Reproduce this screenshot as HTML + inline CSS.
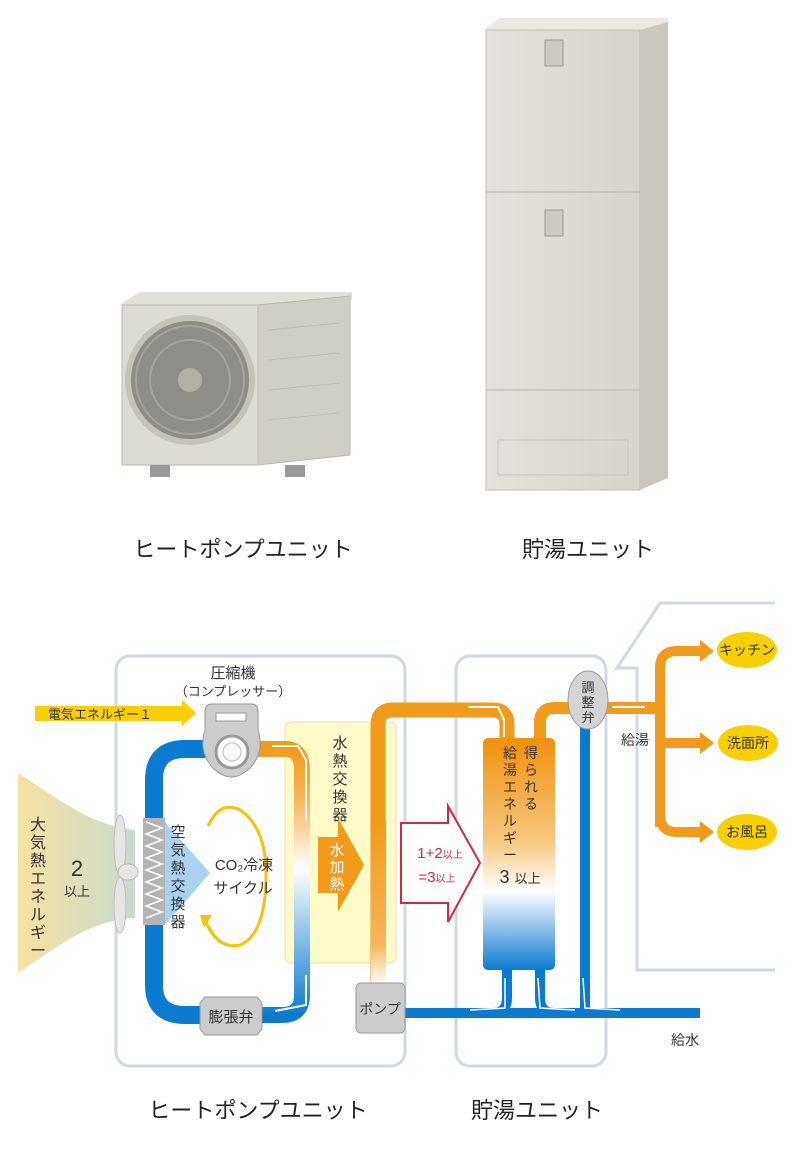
<!DOCTYPE html>
<html><head><meta charset="utf-8"><style>
body{margin:0;background:#fff}
svg text{font-family:"Liberation Sans","Noto Sans CJK JP",sans-serif}
</style></head><body>
<svg width="800" height="1148" viewBox="0 0 800 1148" xmlns="http://www.w3.org/2000/svg">
<defs>
<linearGradient id="tankg" x1="0" y1="0" x2="0" y2="1">
<stop offset="0" stop-color="#f0900a"/><stop offset="0.45" stop-color="#f8c880"/><stop offset="0.66" stop-color="#fff"/><stop offset="0.8" stop-color="#9cc8ec"/><stop offset="1" stop-color="#0a7bd0"/></linearGradient>
<linearGradient id="rpipe" x1="0" y1="0" x2="0" y2="1">
<stop offset="0" stop-color="#f29a1a"/><stop offset="0.2" stop-color="#f7b860"/><stop offset="0.45" stop-color="#fff"/><stop offset="0.7" stop-color="#8cc0ea"/><stop offset="1" stop-color="#0a7bd0"/></linearGradient>
<linearGradient id="ppipe" x1="0" y1="0" x2="0" y2="1">
<stop offset="0" stop-color="#f29a1a"/><stop offset="0.75" stop-color="#f6b45a"/><stop offset="1" stop-color="#fff"/></linearGradient>
<linearGradient id="air" x1="0" y1="0" x2="1" y2="0">
<stop offset="0" stop-color="#f7e2a0"/><stop offset="1" stop-color="#c8dcd0"/></linearGradient>
<linearGradient id="tank" x1="0" y1="0" x2="1" y2="0">
<stop offset="0" stop-color="#e4e2da"/><stop offset="1" stop-color="#d6d4cb"/></linearGradient>
</defs>

<!-- photo: outdoor unit -->
<polygon points="122,303 140,292 352,292 352,300 258,312 122,312" fill="#e2e1d9"/>
<rect x="122" y="305" width="136" height="160" fill="#dddcd3" stroke="#b8b7ae"/>
<polygon points="258,305 350,296 350,455 258,465" fill="#cfcec5" stroke="#b8b7ae"/>
<circle cx="190" cy="380" r="62" fill="#8e8e88" stroke="#c4c3ba" stroke-width="6"/>
<circle cx="190" cy="380" r="54" fill="none" stroke="#a5a59f" stroke-width="2"/>
<circle cx="190" cy="380" r="40" fill="none" stroke="#a5a59f" stroke-width="2"/>
<circle cx="190" cy="380" r="12" fill="#b0b0a8"/>
<g stroke="#bdbcb3"><line x1="268" y1="330" x2="340" y2="323"/><line x1="268" y1="360" x2="340" y2="353"/><line x1="268" y1="390" x2="340" y2="383"/><line x1="268" y1="420" x2="340" y2="413"/></g>
<rect x="150" y="465" width="20" height="12" fill="#999"/><rect x="285" y="465" width="20" height="12" fill="#999"/>

<!-- photo: tank unit -->
<polygon points="486,28 500,18 668,18 668,40 640,40 486,40" fill="#ebe9e2"/>
<rect x="486" y="30" width="154" height="460" fill="url(#tank)" stroke="#c0beb5"/>
<polygon points="640,30 668,22 668,478 640,490" fill="#c9c7be"/>
<line x1="486" y1="192" x2="640" y2="192" stroke="#b6b4ab"/>
<line x1="486" y1="390" x2="640" y2="390" stroke="#b6b4ab"/>
<rect x="545" y="40" width="18" height="26" fill="#ccc9c0" stroke="#999"/>
<rect x="545" y="210" width="18" height="26" fill="#ccc9c0" stroke="#999"/>
<rect x="498" y="440" width="130" height="35" fill="none" stroke="#c6c4bb"/>

<text x="243" y="557" font-size="22" text-anchor="middle" fill="#222">ヒートポンプユニット</text>
<text x="588" y="557" font-size="22" text-anchor="middle" fill="#222">貯湯ユニット</text>

<!-- diagram frames -->
<rect x="116" y="656" width="289" height="410" rx="14" fill="none" stroke="#cfd9e0" stroke-width="3"/>
<rect x="456" y="656" width="150" height="410" rx="14" fill="none" stroke="#cfd9e0" stroke-width="3"/>
<polyline points="775,603 660,603 617,668 637,668 637,970 775,970" fill="none" stroke="#cfd9e0" stroke-width="3"/>

<!-- air energy -->
<path d="M18,773 C60,800 90,825 135,830 L135,918 C90,920 60,945 18,973 Z" fill="url(#air)"/>
<g font-size="16" fill="#333" text-anchor="middle">
<text x="38" y="830">大</text><text x="38" y="848">気</text><text x="38" y="866">熱</text><text x="38" y="884">エ</text><text x="38" y="902">ネ</text><text x="38" y="920">ル</text><text x="38" y="938">ギ</text><text x="38" y="956">ー</text>
</g>
<text x="77" y="876" font-size="22" text-anchor="middle" fill="#333">2</text>
<text x="77" y="896" font-size="13" text-anchor="middle" fill="#333">以上</text>
<ellipse cx="120" cy="845" rx="6" ry="30" fill="#e6e6e6" stroke="#bbb"/>
<ellipse cx="120" cy="905" rx="6" ry="28" fill="#e6e6e6" stroke="#bbb"/>
<ellipse cx="128" cy="872" rx="10" ry="8" fill="#e6e6e6" stroke="#bbb"/>

<!-- yellow box -->
<rect x="285" y="722" width="111" height="241" rx="6" fill="#fffbc8" stroke="#e8e0b0"/>

<!-- blue loop -->
<path d="M210,749 L185,749 Q154,749 154,780 L154,985 Q154,1015 185,1015 L210,1015" fill="none" stroke="#0a7bd0" stroke-width="18"/>
<path d="M255,749 L285,749 Q302,749 302,770 L302,995 Q302,1015 282,1015 L255,1015" fill="none" stroke="url(#rpipe)" stroke-width="16"/>
<polyline points="272,746 298,746 306,760 306,820" fill="none" stroke="#fff" stroke-width="2"/>
<polyline points="306,975 306,1005 275,1011" fill="none" stroke="#fff" stroke-width="2"/>
<!-- heat exchanger -->
<rect x="143" y="818" width="22" height="107" fill="#b4b4b4"/>
<polyline points="146,822 162,828 146,834 162,840 146,846 162,852 146,858 162,864 146,870 162,876 146,882 162,888 146,894 162,900 146,906 162,912 146,918" fill="none" stroke="#fff" stroke-width="1.5"/>
<polygon points="165,822 210,873 165,925" fill="#a8d2ee"/>
<g font-size="15" fill="#333" text-anchor="middle">
<text x="178" y="837">空</text><text x="178" y="855">気</text><text x="178" y="873">熱</text><text x="178" y="891">交</text><text x="178" y="909">換</text><text x="178" y="927">器</text>
</g>
<!-- yellow cycle -->
<path d="M208,826 Q220,800 240,810 Q267,828 266,878 Q265,935 240,945 Q218,950 206,922" fill="none" stroke="#f5c400" stroke-width="3"/>
<polygon points="200,915 212,915 204,928" fill="#f5c400"/>
<text x="244" y="870" font-size="15" text-anchor="middle" fill="#333">CO₂冷凍</text>
<text x="243" y="893" font-size="15" text-anchor="middle" fill="#333">サイクル</text>
<!-- compressor -->
<path d="M212,704 L252,704 Q258,704 258,712 L258,730 Q265,752 250,768 Q240,777 232,777 Q222,777 213,768 Q198,752 205,730 L205,712 Q205,704 212,704 Z" fill="#ccc" stroke="#999"/>
<rect x="216" y="713" width="30" height="8" fill="#fff" stroke="#999"/>
<circle cx="232" cy="752" r="16" fill="#fff" stroke="#999" stroke-width="3"/>
<circle cx="232" cy="752" r="9" fill="#fff" stroke="#bbb"/>
<text x="233" y="678" font-size="15" text-anchor="middle" fill="#333">圧縮機</text>
<text x="233" y="696" font-size="13" text-anchor="middle" fill="#333">（コンプレッサー）</text>
<!-- electric arrow -->
<polygon points="35,706 182,706 182,700 196,713 182,726 182,721 35,721" fill="#f9cf00"/>
<text x="48" y="719" font-size="13" fill="#333">電気エネルギー１</text>
<!-- expansion valve -->
<path d="M205,997 L257,997 L262,1003 L262,1029 L257,1035 L205,1035 L200,1029 L200,1003 Z" fill="#ccc" stroke="#999"/>
<text x="231" y="1022" font-size="15" text-anchor="middle" fill="#333">膨張弁</text>
<!-- water heat exchanger text & arrow -->
<g font-size="15" fill="#333" text-anchor="middle">
<text x="340" y="748">水</text><text x="340" y="766">熱</text><text x="340" y="784">交</text><text x="340" y="802">換</text><text x="340" y="820">器</text>
</g>
<polygon points="318,837 338,837 338,818 364,865 338,912 338,893 318,893" fill="#f29a1a"/>
<g font-size="15" fill="#fff" text-anchor="middle"><text x="337" y="855">水</text><text x="337" y="872">加</text><text x="337" y="889">熱</text></g>

<!-- orange pipe from pump -->
<path d="M378,985 L378,725 Q378,710 393,710 L493,710 Q507,710 507,725 L507,740" fill="none" stroke="#f29a1a" stroke-width="15"/>
<rect x="371" y="820" width="15" height="165" fill="url(#ppipe)"/>
<polyline points="468,707 498,707 504,720 504,737" fill="none" stroke="#fff" stroke-width="2"/>
<!-- blue pipes -->
<line x1="400" y1="1013" x2="700" y2="1013" stroke="#0a7bd0" stroke-width="10"/>
<path d="M507,965 L507,998 Q507,1013 492,1013" fill="none" stroke="#0a7bd0" stroke-width="10"/>
<path d="M540,965 L540,998 Q540,1013 555,1013" fill="none" stroke="#0a7bd0" stroke-width="10"/>
<line x1="585" y1="720" x2="585" y2="1013" stroke="#0a7bd0" stroke-width="10"/>
<polyline points="505,978 505,1008 470,1010" fill="none" stroke="#fff" stroke-width="1.5"/>
<polyline points="538,978 540,1008 575,1010" fill="none" stroke="#fff" stroke-width="1.5"/>
<polyline points="583,978 585,1008 620,1010" fill="none" stroke="#fff" stroke-width="1.5"/>
<text x="685" y="1045" font-size="14" text-anchor="middle" fill="#333">給水</text>
<!-- pump -->
<rect x="356" y="983" width="49" height="50" rx="5" fill="#ccc" stroke="#999"/>
<text x="380" y="1014" font-size="14" text-anchor="middle" fill="#333">ポンプ</text>

<!-- red arrow -->
<polygon points="401,823 448,823 448,806 480,863 448,922 448,903 401,903" fill="#fff" stroke="#d7263d" stroke-width="2"/>
<text x="440" y="858" font-size="15" fill="#d7263d" text-anchor="middle">1+2<tspan font-size="10">以上</tspan></text>
<text x="437" y="882" font-size="15" fill="#d7263d" text-anchor="middle">=3<tspan font-size="10">以上</tspan></text>

<!-- tank -->
<path d="M540,740 L540,722 Q540,708 555,708 L575,708" fill="none" stroke="#f29a1a" stroke-width="12"/>
<rect x="483" y="738" width="72" height="232" rx="5" fill="url(#tankg)"/>
<g font-size="14" fill="#333" text-anchor="middle">
<text x="531" y="758">得</text><text x="531" y="775">ら</text><text x="531" y="792">れ</text><text x="531" y="809">る</text>
<text x="510" y="758">給</text><text x="510" y="775">湯</text><text x="510" y="792">エ</text><text x="510" y="809">ネ</text><text x="510" y="826">ル</text><text x="510" y="843">ギ</text><text x="510" y="860">ー</text>
</g>
<text x="520" y="883" font-size="18" text-anchor="middle" fill="#333">3 <tspan font-size="13">以上</tspan></text>

<!-- valve & outlet -->
<path d="M605,708 L660,708" stroke="#f29a1a" stroke-width="12"/>
<path d="M660,827 L660,668 Q660,651 677,651 L703,651" fill="none" stroke="#f29a1a" stroke-width="10"/>
<path d="M660,815 Q660,832 677,832 L703,832" fill="none" stroke="#f29a1a" stroke-width="10"/>
<line x1="660" y1="743" x2="703" y2="743" stroke="#f29a1a" stroke-width="10"/>
<polygon points="700,640 714,651 700,662" fill="#f29a1a"/>
<polygon points="700,732 714,743 700,754" fill="#f29a1a"/>
<polygon points="700,821 714,832 700,843" fill="#f29a1a"/>
<line x1="612" y1="707" x2="645" y2="707" stroke="#fff" stroke-width="2"/>
<ellipse cx="588" cy="700" rx="20" ry="29" fill="#d4d4d4" stroke="#999"/>
<g font-size="13" fill="#333" text-anchor="middle"><text x="588" y="692">調</text><text x="588" y="707">整</text><text x="588" y="722">弁</text></g>
<text x="635" y="745" font-size="14" text-anchor="middle" fill="#333">給湯</text>
<ellipse cx="747" cy="650" rx="30" ry="18" fill="#f9cf00"/>
<ellipse cx="748" cy="743" rx="30" ry="18" fill="#f9cf00"/>
<ellipse cx="747" cy="832" rx="30" ry="18" fill="#f9cf00"/>
<g font-size="14" fill="#333" text-anchor="middle">
<text x="747" y="655">キッチン</text><text x="748" y="748">洗面所</text><text x="747" y="837">お風呂</text>
</g>

<text x="258" y="1118" font-size="22" text-anchor="middle" fill="#222">ヒートポンプユニット</text>
<text x="537" y="1118" font-size="22" text-anchor="middle" fill="#222">貯湯ユニット</text>
</svg>
</body></html>
